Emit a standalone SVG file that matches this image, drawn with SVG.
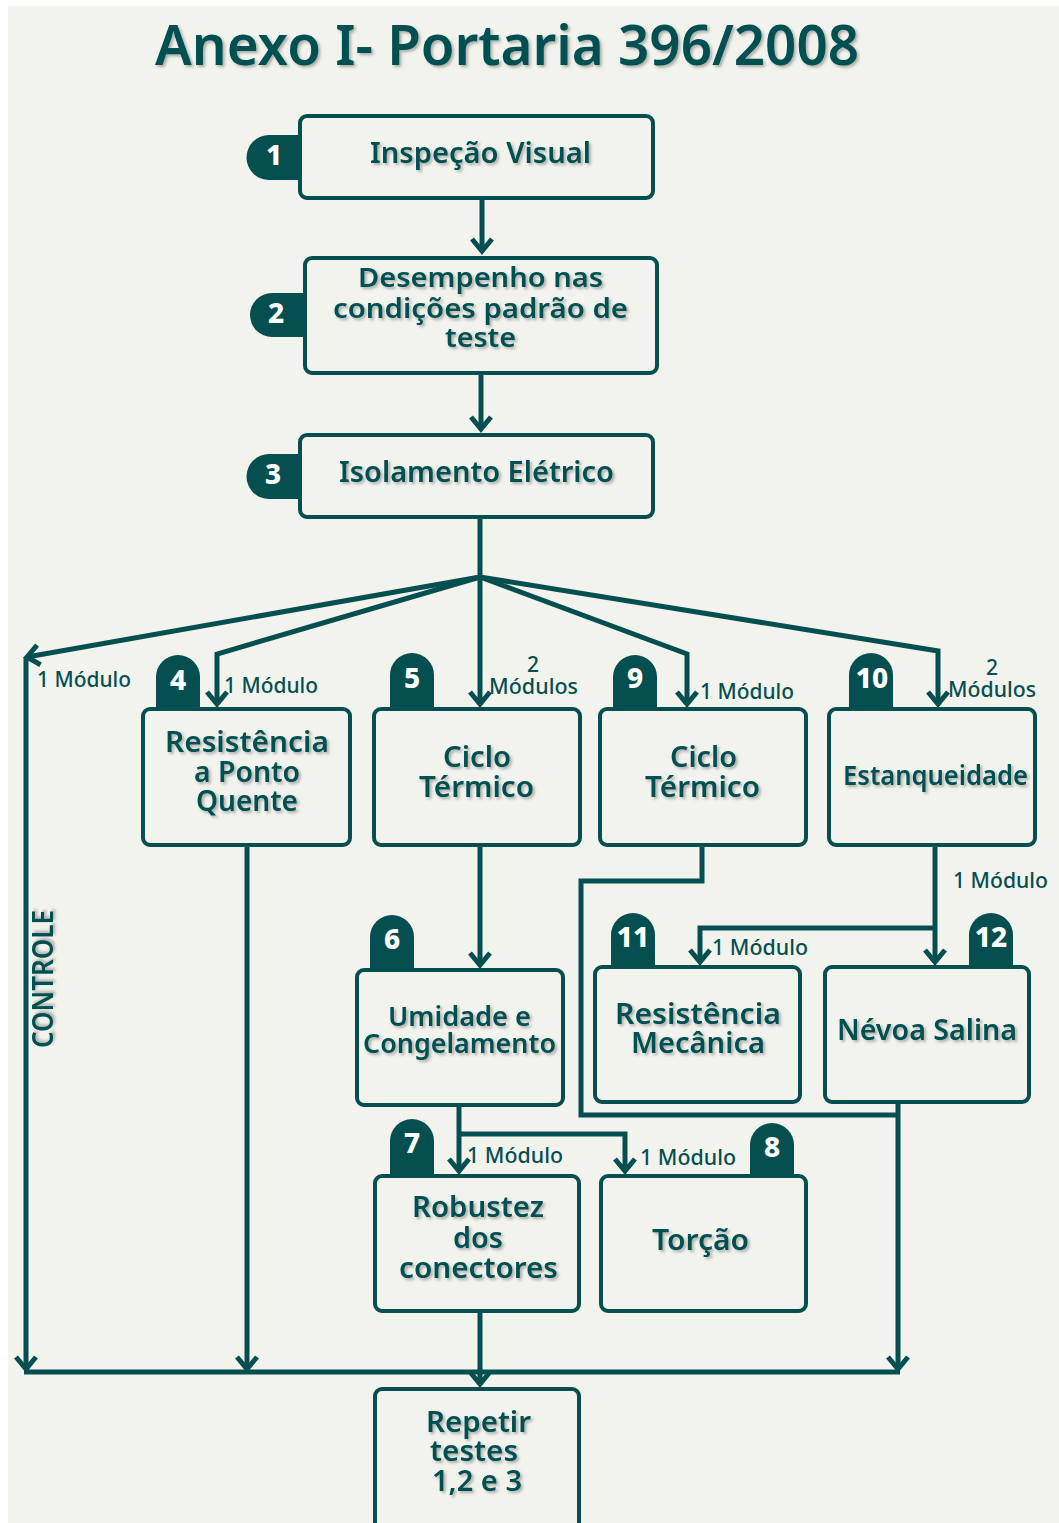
<svg xmlns="http://www.w3.org/2000/svg" width="1059" height="1523" viewBox="0 0 1059 1523">
  <style>
    .box { fill: none; stroke: #064f51; stroke-width: 4; }
    .badge { fill: #064f51; }
    .wire { fill: none; stroke: #064f51; stroke-width: 5; stroke-linejoin: miter; }
    .arrow { marker-end: url(#chev); }
    .lbl { font-family: "Noto Sans", "Open Sans", sans-serif; font-weight: 600; fill: #064f51; filter: url(#soft); }
    .num { font-family: "Noto Sans", "Open Sans", sans-serif; font-weight: 800; font-size: 28px; fill: #ffffff; text-anchor: middle; }
    .note { font-family: "Noto Sans", "Open Sans", sans-serif; font-weight: 500; font-size: 21px; fill: #064f51; }
  </style>
  <defs>
    <filter id="soft" x="-10%" y="-30%" width="120%" height="160%">
      <feDropShadow dx="2" dy="2" stdDeviation="1.6" flood-color="#000" flood-opacity="0.3"/>
    </filter>
    <marker id="chev" markerUnits="userSpaceOnUse" viewBox="-16 -14 20 28" markerWidth="20" markerHeight="28" refX="0" refY="0" orient="auto">
      <path d="M-12,-10 L0,0 L-12,10" fill="none" stroke="#064f51" stroke-width="5" stroke-linejoin="miter"/>
    </marker>
  </defs>

  <!-- page -->
  <rect x="0" y="0" width="1059" height="1523" fill="#ffffff"/>
  <rect x="8" y="6" width="1051" height="1517" fill="#f3f3ee"/>

  <text class="lbl" x="155" y="65" font-size="56" textLength="704" lengthAdjust="spacingAndGlyphs" font-weight="500">Anexo I- Portaria 396/2008</text>

  <!-- connectors -->
  <g id="connectors">
    <path class="wire arrow" d="M482,200 V251"/>
    <path class="wire arrow" d="M481,375 V429"/>
    <path class="wire" d="M480,518 V577"/>
    <path class="wire arrow" d="M480,577 L27,657"/>
    <path class="wire arrow" d="M26,657 V1369"/>
    <path class="wire arrow" d="M480,577 L217,654 V704"/>
    <path class="wire arrow" d="M480,577 V704"/>
    <path class="wire arrow" d="M480,577 L687,654 V704"/>
    <path class="wire arrow" d="M480,577 L938,651 V704"/>
    <path class="wire arrow" d="M247,847 V1369"/>
    <path class="wire arrow" d="M480,847 V965"/>
    <path class="wire" d="M702,847 V881 H581 V1115 H898"/>
    <path class="wire arrow" d="M935,847 V962"/>
    <path class="wire arrow" d="M935,928 H700 V962"/>
    <path class="wire arrow" d="M898,1104 V1369"/>
    <path class="wire arrow" d="M459,1107 V1171"/>
    <path class="wire arrow" d="M459,1134 H625 V1171"/>
    <path class="wire arrow" d="M480,1313 V1384"/>
    <path class="wire" d="M24,1372 H900"/>

    <text class="note" x="37" y="687" textLength="94" lengthAdjust="spacingAndGlyphs">1 Módulo</text>
    <text class="note" x="224" y="693" textLength="94" lengthAdjust="spacingAndGlyphs">1 Módulo</text>
    <text class="note" x="533" y="672" text-anchor="middle">2</text>
    <text class="note" x="489" y="694" textLength="89" lengthAdjust="spacingAndGlyphs">Módulos</text>
    <text class="note" x="700" y="699" textLength="94" lengthAdjust="spacingAndGlyphs">1 Módulo</text>
    <text class="note" x="992" y="675" text-anchor="middle">2</text>
    <text class="note" x="948" y="697" textLength="88" lengthAdjust="spacingAndGlyphs">Módulos</text>
    <text class="note" x="953" y="888" textLength="95" lengthAdjust="spacingAndGlyphs">1 Módulo</text>
    <text class="note" x="712" y="955" textLength="96" lengthAdjust="spacingAndGlyphs">1 Módulo</text>
    <text class="note" x="467" y="1163" textLength="96" lengthAdjust="spacingAndGlyphs">1 Módulo</text>
    <text class="note" x="640" y="1165" textLength="96" lengthAdjust="spacingAndGlyphs">1 Módulo</text>

    <text class="lbl" transform="translate(53,979) rotate(-90)" x="-69" y="0" font-size="29" font-weight="500" textLength="138" lengthAdjust="spacingAndGlyphs">CONTROLE</text>
  </g>

  <!-- 1 -->
  <g id="n1">
    <path class="badge" d="M300,135 H269 A22,22 0 0 0 269,180 H300 Z"/>
    <text class="num" x="274" y="165">1</text>
    <rect class="box" x="300" y="116" width="353" height="82" rx="7"/>
    <text class="lbl" x="370" y="163" font-size="29" textLength="221" lengthAdjust="spacingAndGlyphs">Inspeção Visual</text>
  </g>

  <!-- 2 -->
  <g id="n2">
    <path class="badge" d="M305,293 H272 A22,22 0 0 0 272,337 H305 Z"/>
    <text class="num" x="276" y="323">2</text>
    <rect class="box" x="305" y="258" width="352" height="115" rx="7"/>
    <text class="lbl" x="358" y="287" font-size="27" textLength="245" lengthAdjust="spacingAndGlyphs">Desempenho nas</text>
    <text class="lbl" x="333" y="318" font-size="27" textLength="295" lengthAdjust="spacingAndGlyphs">condições padrão de</text>
    <text class="lbl" x="445" y="347" font-size="27" textLength="71" lengthAdjust="spacingAndGlyphs">teste</text>
  </g>

  <!-- 3 -->
  <g id="n3">
    <path class="badge" d="M300,454 H269 A22,22 0 0 0 269,499 H300 Z"/>
    <text class="num" x="273" y="484">3</text>
    <rect class="box" x="300" y="435" width="353" height="82" rx="7"/>
    <text class="lbl" x="339" y="482" font-size="29" textLength="275" lengthAdjust="spacingAndGlyphs">Isolamento Elétrico</text>
  </g>

  <!-- 4 -->
  <g id="n4">
    <path class="badge" d="M156,709 V677 A22,22 0 0 1 200,677 V709 Z"/>
    <text class="num" x="178" y="690">4</text>
    <rect class="box" x="143" y="709" width="207" height="136" rx="7"/>
    <text class="lbl" x="165" y="752" font-size="28" textLength="164" lengthAdjust="spacingAndGlyphs">Resistência</text>
    <text class="lbl" x="194" y="782" font-size="28" textLength="106" lengthAdjust="spacingAndGlyphs">a Ponto</text>
    <text class="lbl" x="196" y="811" font-size="28" textLength="102" lengthAdjust="spacingAndGlyphs">Quente</text>
  </g>

  <!-- 5 -->
  <g id="n5">
    <path class="badge" d="M390,709 V675 A22,22 0 0 1 434,675 V709 Z"/>
    <text class="num" x="412" y="688">5</text>
    <rect class="box" x="374" y="709" width="206" height="136" rx="7"/>
    <text class="lbl" x="443" y="767" font-size="28" textLength="68" lengthAdjust="spacingAndGlyphs">Ciclo</text>
    <text class="lbl" x="419" y="797" font-size="28" textLength="115" lengthAdjust="spacingAndGlyphs">Térmico</text>
  </g>

  <!-- 9 -->
  <g id="n9">
    <path class="badge" d="M613,709 V677 A22,22 0 0 1 657,677 V709 Z"/>
    <text class="num" x="635" y="688">9</text>
    <rect class="box" x="600" y="709" width="206" height="136" rx="7"/>
    <text class="lbl" x="670" y="767" font-size="28" textLength="67" lengthAdjust="spacingAndGlyphs">Ciclo</text>
    <text class="lbl" x="645" y="797" font-size="28" textLength="115" lengthAdjust="spacingAndGlyphs">Térmico</text>
  </g>

  <!-- 10 -->
  <g id="n10">
    <path class="badge" d="M849,709 V675 A22,22 0 0 1 893,675 V709 Z"/>
    <text class="num" x="872" y="688">10</text>
    <rect class="box" x="829" y="709" width="206" height="136" rx="7"/>
    <text class="lbl" x="843" y="785" font-size="27" textLength="185" lengthAdjust="spacingAndGlyphs">Estanqueidade</text>
  </g>

  <!-- 6 -->
  <g id="n6">
    <path class="badge" d="M370,970 V937 A22,22 0 0 1 414,937 V970 Z"/>
    <text class="num" x="392" y="949">6</text>
    <rect class="box" x="357" y="970" width="206" height="135" rx="7"/>
    <text class="lbl" x="388" y="1026" font-size="27" textLength="143" lengthAdjust="spacingAndGlyphs">Umidade e</text>
    <text class="lbl" x="363" y="1053" font-size="27" textLength="193" lengthAdjust="spacingAndGlyphs">Congelamento</text>
  </g>

  <!-- 11 -->
  <g id="n11">
    <path class="badge" d="M611,967 V935 A22,22 0 0 1 655,935 V967 Z"/>
    <text class="num" x="633" y="947">11</text>
    <rect class="box" x="595" y="967" width="205" height="135" rx="7"/>
    <text class="lbl" x="615" y="1024" font-size="28" textLength="166" lengthAdjust="spacingAndGlyphs">Resistência</text>
    <text class="lbl" x="631" y="1053" font-size="28" textLength="134" lengthAdjust="spacingAndGlyphs">Mecânica</text>
  </g>

  <!-- 12 -->
  <g id="n12">
    <path class="badge" d="M969,967 V935 A22,22 0 0 1 1013,935 V967 Z"/>
    <text class="num" x="991" y="947">12</text>
    <rect class="box" x="825" y="967" width="204" height="135" rx="7"/>
    <text class="lbl" x="837" y="1040" font-size="29" textLength="180" lengthAdjust="spacingAndGlyphs">Névoa Salina</text>
  </g>

  <!-- 7 -->
  <g id="n7">
    <path class="badge" d="M390,1176 V1141 A22,22 0 0 1 434,1141 V1176 Z"/>
    <text class="num" x="412" y="1153">7</text>
    <rect class="box" x="375" y="1176" width="204" height="135" rx="7"/>
    <text class="lbl" x="412" y="1217" font-size="28" textLength="132" lengthAdjust="spacingAndGlyphs">Robustez</text>
    <text class="lbl" x="453" y="1248" font-size="28" textLength="50" lengthAdjust="spacingAndGlyphs">dos</text>
    <text class="lbl" x="399" y="1278" font-size="28" textLength="159" lengthAdjust="spacingAndGlyphs">conectores</text>
  </g>

  <!-- 8 -->
  <g id="n8">
    <path class="badge" d="M750,1176 V1145 A22,22 0 0 1 794,1145 V1176 Z"/>
    <text class="num" x="772" y="1157">8</text>
    <rect class="box" x="601" y="1176" width="205" height="135" rx="7"/>
    <text class="lbl" x="652" y="1250" font-size="28" textLength="97" lengthAdjust="spacingAndGlyphs">Torção</text>
  </g>

  <!-- repeat -->
  <g id="n13">
    <rect class="box" x="375" y="1389" width="204" height="160" rx="7"/>
    <text class="lbl" x="426" y="1432" font-size="28" textLength="105" lengthAdjust="spacingAndGlyphs">Repetir</text>
    <text class="lbl" x="430" y="1461" font-size="28" textLength="88" lengthAdjust="spacingAndGlyphs">testes</text>
    <text class="lbl" x="432" y="1491" font-size="28" textLength="90" lengthAdjust="spacingAndGlyphs">1,2 e 3</text>
  </g>
</svg>
